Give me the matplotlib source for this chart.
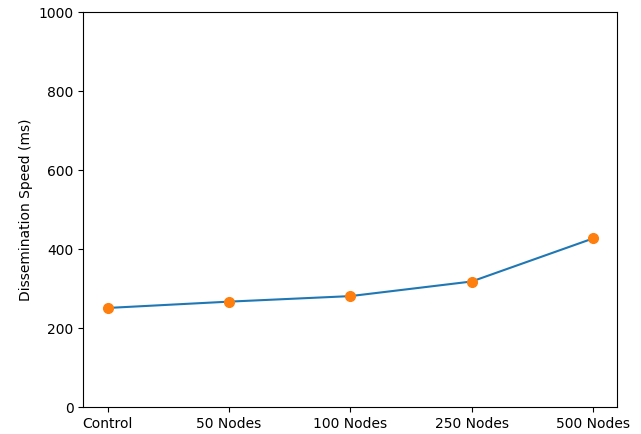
import matplotlib

matplotlib.use("Agg")
import matplotlib.pyplot as plt

# dissemination speed per network size
labels = ["Control", "50 Nodes", "100 Nodes", "250 Nodes", "500 Nodes"]
speed_ms = [251, 267, 281, 318, 427]

fig, ax = plt.subplots(figsize=(6.41, 4.34), dpi=100)
ax.plot(labels, speed_ms, color="C0")
ax.plot(labels, speed_ms, "o", color="C1", markersize=7)
ax.set_ylim(0, 1000)
ax.set_ylabel("Dissemination Speed (ms)")

fig.subplots_adjust(left=0.13, right=0.963, top=0.972, bottom=0.062)
fig.savefig("out.png", dpi=100)
